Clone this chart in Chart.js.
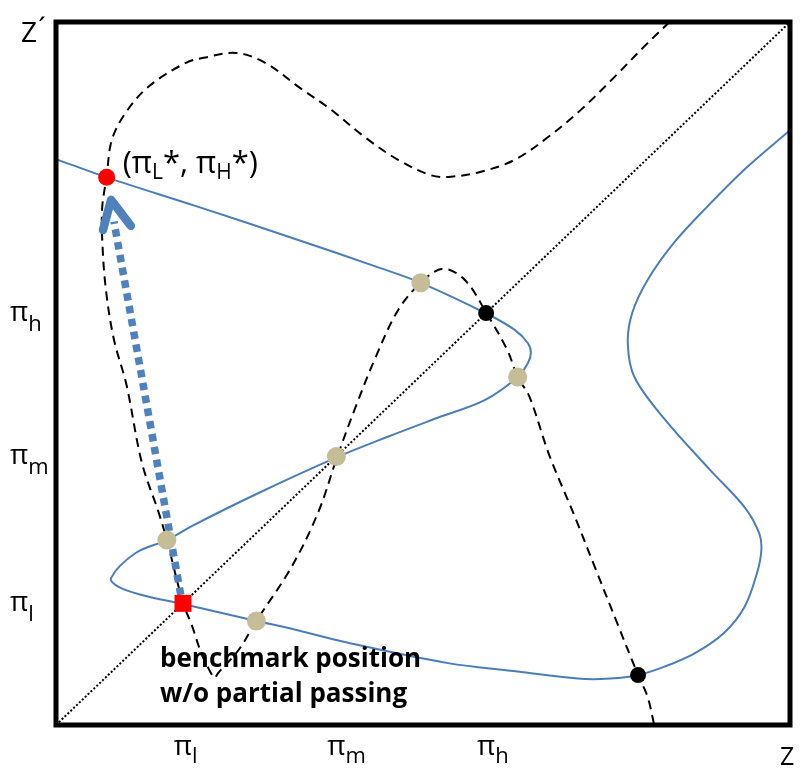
<!DOCTYPE html>
<html>
<head>
<meta charset="utf-8">
<script src="https://cdn.jsdelivr.net/npm/chart.js@4.4.1/dist/chart.umd.min.js"></script>
<style>
  html, body { margin: 0; padding: 0; background: #fff; }
</style>
</head>
<body>
<canvas id="chart" width="802" height="770"></canvas>
<script>
// positions of pi_l, pi_m, pi_h (same on both axes, box runs 0..100)
const tickValues = [17.3, 38.2, 58.6];
const tickSubs = ["l", "m", "h"];

// 45 degree line
const diagX = [0, 100];
const diagY = [0, 100];

const blueX = [0, 6.9, 19.4, 33.0, 43.9, 49.7, 58.7, 62.5, 64.3, 64.7, 64.3, 62.9, 58.4, 52.0, 45.2,
  38.3, 27.6, 18.5, 15.1, 10.9, 7.5, 8.6, 11.7, 17.3, 27.3, 31.7, 39.8, 53.4, 62.9, 71.1,
  75.5, 79.3, 82.9, 87.0, 91.0, 93.8, 95.5, 96.1, 95.8, 93.8, 89.1, 83.0, 78.8, 77.9,
  78.5, 80.6, 84.2, 88.7, 94.2, 100];
const blueY = [80.5, 77.9, 73.7, 69.0, 65.1, 62.9, 58.5, 56.2, 54.3, 52.9, 51.5, 49.5, 46.2, 43.7, 41.0,
  38.1, 33.0, 28.3, 26.3, 24.5, 20.9, 19.6, 18.5, 17.2, 14.8, 13.8, 11.7, 8.8, 7.6, 6.6,
  6.6, 7.1, 8.3, 10.2, 13.1, 16.8, 21.6, 24.9, 27.3, 31.0, 36.3, 43.4, 49.5, 54.3,
  58.6, 63.3, 68.6, 73.7, 79.4, 84.6];

// dashed black curve
const dashX = [83.6, 80.6, 76.1, 71.5, 67.0, 62.5, 57.9, 53.8, 51.1, 46.6, 42.1, 37.5, 33.0, 28.5, 24.5,
  20.1, 17.7, 12.6, 9.5, 7.6, 6.9, 6.3, 6.3, 6.8, 7.9, 9.6, 11.7, 14.0, 15.1, 17.3,
  18.5, 19.8, 21.1, 21.6, 22.1, 24.9, 27.3, 32.1, 35.7, 38.3, 40.8, 43.5, 46.6, 49.7, 52.7,
  55.7, 58.7, 61.5, 62.9, 64.5, 67.2, 70.7, 73.4, 76.3, 79.3, 80.6, 81.5];
const dashY = [100, 97.0, 92.2, 87.5, 83.6, 80.4, 78.7, 78.0, 78.2, 80.4, 83.6, 87.5, 90.8, 94.2, 95.6,
  94.9, 94.2, 90.8, 87.1, 83.2, 78.0, 73.7, 69.0, 61.9, 54.8, 48.4, 37.3, 30.2, 26.3, 17.4,
  14.2, 10.2, 7.4, 6.7, 7.4, 10.7, 14.8, 22.5, 30.2, 38.1, 45.2, 52.2, 59.0, 62.9, 64.9,
  63.3, 58.5, 53.3, 49.5, 46.7, 38.4, 29.6, 22.5, 14.9, 7.1, 4.0, 0];

// intersections
const tanX = [49.7, 62.9, 38.2, 15.1, 27.3];
const tanY = [62.9, 49.5, 38.2, 26.3, 14.8];
const blackX = [58.6, 79.3];
const blackY = [58.6, 7.1];
const optimumX = [6.9];
const optimumY = [77.9];
const benchX = [17.3];
const benchY = [17.3];

// arrow from benchmark up to the optimum
const shaftX = [17.0, 7.9];
const shaftY = [18.5, 71.6];
const headX = [6.4, 7.5, 10.2];
const headY = [70.4, 74.7, 71.0];

const FONT = "'Open Sans', 'DejaVu Sans', sans-serif";
const BLUE = "#4a7ebb";

function pts(xs, ys) {
  return xs.map((v, i) => ({ x: v, y: ys[i] }));
}

// draws text pieces one after another, [text, size, dy, bold]
function drawParts(ctx, x, y, parts) {
  for (const [t, size, dy, bold] of parts) {
    ctx.font = (bold ? "bold " : "") + size + "px " + FONT;
    ctx.fillText(t, x, y + dy);
    x += ctx.measureText(t).width;
  }
  return x;
}

const overlay = {
  id: "overlay",
  afterDatasetsDraw(chart) {
    const { ctx, chartArea: a, scales } = chart;
    ctx.save();
    ctx.strokeStyle = "#000";
    ctx.lineWidth = 5;
    ctx.strokeRect(a.left, a.top, a.right - a.left, a.bottom - a.top);

    ctx.fillStyle = "#000";
    ctx.textAlign = "left";
    ctx.textBaseline = "alphabetic";

    // tick labels, placed through the scales
    tickValues.forEach((v, i) => {
      const px = scales.x.getPixelForValue(v);
      ctx.font = "28px " + FONT;
      const w = ctx.measureText("π").width;
      drawParts(ctx, px - w / 2, a.bottom + 30, [["π", 28, 0], [tickSubs[i], 22, 8]]);
      const py = scales.y.getPixelForValue(v);
      drawParts(ctx, 10, py + 8, [["π", 28, 0], [tickSubs[i], 22, 10]]);
    });

    // axis names
    drawParts(ctx, a.right - 10, a.bottom + 40, [["Z", 25, 0]]);
    drawParts(ctx, 21, a.top + 20, [["Z", 28, 0]]);
    drawParts(ctx, 38, a.top + 16, [["´", 28, 0]]);

    // optimum label
    const ox = scales.x.getPixelForValue(optimumX[0]);
    const oy = scales.y.getPixelForValue(optimumY[0]);
    drawParts(ctx, ox + 16, oy - 4, [
      ["(", 31, 0], ["π", 31, 0], ["L", 21, 6], ["*, ", 31, 0],
      ["π", 31, 0], ["H", 21, 6], ["*)", 31, 0]
    ]);

    // benchmark note
    const bx = scales.x.getPixelForValue(benchX[0]);
    const by = scales.y.getPixelForValue(benchY[0]);
    drawParts(ctx, bx - 23, by + 64, [["benchmark position", 26, 0, true]]);
    drawParts(ctx, bx - 23, by + 99, [["w/o partial passing", 26, 0, true]]);
    ctx.restore();
  }
};

const markerDefaults = { showLine: false, pointBorderWidth: 0 };

new Chart(document.getElementById("chart"), {
  type: "scatter",
  data: {
    datasets: [
      { ...markerDefaults, data: pts(benchX, benchY), pointStyle: "rect", pointRadius: 12,
        pointBackgroundColor: "#ff0000" },
      { ...markerDefaults, data: pts(optimumX, optimumY), pointRadius: 8.5,
        pointBackgroundColor: "#ff0000" },
      { ...markerDefaults, data: pts(blackX, blackY), pointRadius: 8,
        pointBackgroundColor: "#000000" },
      { ...markerDefaults, data: pts(tanX, tanY), pointRadius: 9.5,
        pointBackgroundColor: "#c4bd97" },
      { data: pts(headX, headY), showLine: true, pointRadius: 0, borderColor: "#4f81bd",
        borderWidth: 8.5, borderCapStyle: "round", borderJoinStyle: "round" },
      { data: pts(shaftX, shaftY), showLine: true, pointRadius: 0, borderColor: "#4f81bd",
        borderWidth: 7.5, borderDash: [7.5, 5.5] },
      { data: pts(blueX, blueY), showLine: true, pointRadius: 0, borderColor: BLUE,
        borderWidth: 2, tension: 0.35 },
      { data: pts(dashX, dashY), showLine: true, pointRadius: 0, borderColor: "#000",
        borderWidth: 2, borderDash: [9, 6], tension: 0.35 },
      { data: pts(diagX, diagY), showLine: true, pointRadius: 0, borderColor: "#000",
        borderWidth: 2, borderDash: [2, 2] }
    ]
  },
  options: {
    responsive: false,
    animation: false,
    events: [],
    layout: { padding: { left: 56, right: 8, top: 22, bottom: 45 } },
    plugins: { legend: { display: false }, tooltip: { enabled: false } },
    scales: {
      x: { type: "linear", min: 0, max: 100, display: false },
      y: { type: "linear", min: 0, max: 100, display: false }
    }
  },
  plugins: [overlay]
});
</script>
</body>
</html>
